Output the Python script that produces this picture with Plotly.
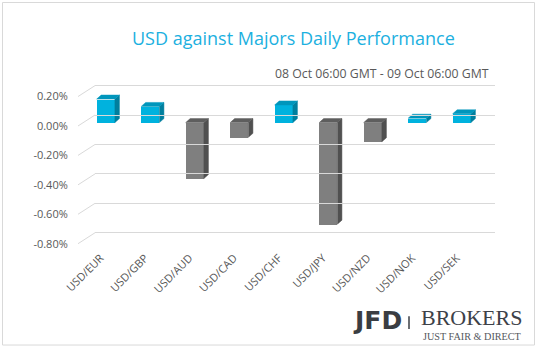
import plotly.graph_objects as go

# ---------------- data ----------------
categories = ["USD/EUR", "USD/GBP", "USD/AUD", "USD/CAD", "USD/CHF",
              "USD/JPY", "USD/NZD", "USD/NOK", "USD/SEK"]
values = [0.16, 0.11, -0.38, -0.10, 0.12, -0.69, -0.13, 0.03, 0.06]
tick_vals = [0.2, 0.0, -0.2, -0.4, -0.6, -0.8]
tick_text = ["0.20%", "0.00%", "-0.20%", "-0.40%", "-0.60%", "-0.80%"]
title_text = "USD against Majors Daily Performance"
subtitle_text = "08 Oct 06:00 GMT - 09 Oct 06:00 GMT"

# ---------------- geometry helpers ----------------
W, H = 538, 351
def px(x):
    return x / W
def py(y):
    return 1 - y / H

PX_PER_UNIT_Y = 148.0      # pixels per 1 %
PX_PER_CAT = 44.5          # pixels per category
PLOT_TOP, PLOT_BOT = 80, 250
PLOT_L, PLOT_R = 60, 500
BAR0_X = 105.8             # pixel centre of first bar (bar plane)
ZERO_BAR = 123.3           # pixel y of 0 in bar plane
ZERO_BACK = 115.7          # back wall
ZERO_FRONT = 126.7         # front floor edge (labels)
BACK_L, BACK_R = 95, 495
FRONT_L = 78

def yrange(zero_px):
    return [-(PLOT_BOT - zero_px) / PX_PER_UNIT_Y, (zero_px - PLOT_TOP) / PX_PER_UNIT_Y]

def xrange(c0):
    return [-(c0 - PLOT_L) / PX_PER_CAT, (PLOT_R - c0) / PX_PER_CAT]

bar_w = 0.41
dx = 4.5 / PX_PER_CAT
dy = 4.0 / PX_PER_UNIT_Y

CYAN = "#00B2DE"; CYAN_SIDE = "#007F9E"; CYAN_TOP = "#0096BC"
GRAY = "#7F7F7F"; GRAY_SIDE = "#505050"; GRAY_TOP = "#5E5E5E"

xs = list(range(len(categories)))
fig = go.Figure()

# side and top faces (pseudo-3D), built from the values
faces = {"pos_side": ([], []), "pos_top": ([], []), "neg_side": ([], []), "neg_top": ([], [])}
for i, v in enumerate(values):
    key = "pos" if v >= 0 else "neg"
    r = i + bar_w / 2
    l = i - bar_w / 2
    sx, sy = faces[key + "_side"]
    sx += [r, r, r + dx, r + dx, r, None]
    sy += [0, v, v + dy, dy, 0, None]
    t = max(v, 0)
    tx, ty = faces[key + "_top"]
    tx += [l, r, r + dx, l + dx, l, None]
    ty += [t, t, t + dy, t + dy, t, None]

for key, col in [("pos_side", CYAN_SIDE), ("pos_top", CYAN_TOP),
                 ("neg_side", GRAY_SIDE), ("neg_top", GRAY_TOP)]:
    fx, fy = faces[key]
    fig.add_trace(go.Scatter(x=fx, y=fy, mode="lines", fill="toself",
                             fillcolor=col, line=dict(color=col, width=0.5),
                             hoverinfo="skip", showlegend=False,
                             xaxis="x", yaxis="y"))

fig.add_trace(go.Bar(x=xs, y=values, width=bar_w,
                     marker=dict(color=[CYAN if v >= 0 else GRAY for v in values],
                                 line=dict(width=0)),
                     showlegend=False, xaxis="x", yaxis="y"))

# invisible helpers so overlay axes are drawn
fig.add_trace(go.Scatter(x=[0], y=[0], mode="markers", marker=dict(opacity=0),
                         hoverinfo="skip", showlegend=False, xaxis="x2", yaxis="y2"))
fig.add_trace(go.Scatter(x=[0], y=[0], mode="markers", marker=dict(opacity=0),
                         hoverinfo="skip", showlegend=False, xaxis="x3", yaxis="y3"))

# diagonal floor lines from back wall to front edge
shapes = []
depth_units = (ZERO_FRONT - ZERO_BACK) / PX_PER_UNIT_Y
for v in tick_vals:
    shapes.append(dict(type="line", xref="paper", yref="y2",
                       x0=px(FRONT_L), y0=v - depth_units, x1=px(BACK_L), y1=v,
                       line=dict(color="#D9D9D9", width=1)))
# outer border
shapes.append(dict(type="rect", xref="paper", yref="paper",
                   x0=px(2.5), y0=py(347), x1=px(534.5), y1=py(2.5),
                   line=dict(color="#D9D9D9", width=1), layer="below"))
# logo separator
shapes.append(dict(type="rect", xref="paper", yref="paper",
                   x0=px(408), y0=py(331), x1=px(410), y1=py(318),
                   line=dict(width=0), fillcolor="#6B6E73"))

font_family = "Open Sans, Segoe UI, sans-serif"
ydom = [py(PLOT_BOT), py(PLOT_TOP)]
front_shift = (ZERO_FRONT - ZERO_BAR) * (17 / 11)

fig.update_layout(
    width=W, height=H,
    margin=dict(l=0, r=0, t=0, b=0),
    paper_bgcolor="white", plot_bgcolor="rgba(0,0,0,0)",
    bargap=0,
    font=dict(family=font_family, color="#595959"),
    shapes=shapes,
    xaxis=dict(domain=[px(PLOT_L), px(PLOT_R)], range=xrange(BAR0_X),
               showgrid=False, zeroline=False, showticklabels=False,
               showline=False, fixedrange=True),
    yaxis=dict(domain=ydom, range=yrange(ZERO_BAR), showgrid=False,
               zeroline=False, showticklabels=False, showline=False),
    # back wall gridlines
    xaxis2=dict(domain=[px(BACK_L), px(BACK_R)], range=[0, 1], anchor="y2",
                showgrid=False, zeroline=False, showticklabels=False, showline=False),
    yaxis2=dict(domain=ydom, range=yrange(ZERO_BACK), anchor="x2",
                tickmode="array", tickvals=tick_vals, showticklabels=False,
                showgrid=True, gridcolor="#D9D9D9", gridwidth=1,
                zeroline=False, showline=False),
    # front edge: tick labels
    xaxis3=dict(domain=[px(PLOT_L), px(PLOT_R)], range=xrange(BAR0_X - front_shift),
                anchor="y3", tickmode="array", tickvals=xs, ticktext=categories,
                tickangle=-45, showgrid=False, zeroline=False, showline=False,
                ticks="", tickfont=dict(size=11, color="#595959")),
    yaxis3=dict(domain=ydom, range=yrange(ZERO_FRONT), anchor="free",
                position=px(76), side="left",
                tickmode="array", tickvals=tick_vals, ticktext=tick_text,
                showgrid=False, zeroline=False, showline=False,
                ticks="outside", ticklen=6, tickcolor="rgba(0,0,0,0)",
                tickfont=dict(size=11, color="#595959")),
    annotations=[
        dict(text=title_text, xref="paper", yref="paper", x=px(293.5), y=py(38),
             xanchor="center", yanchor="middle", showarrow=False,
             font=dict(size=18, color="#1CB0E0", family=font_family)),
        dict(text=subtitle_text, xref="paper", yref="paper", x=px(491), y=py(74),
             xanchor="right", yanchor="middle", showarrow=False,
             font=dict(size=12.3, color="#595959", family=font_family)),
        dict(text="<b>JFD</b>", xref="paper", yref="paper", x=px(351), y=py(322.5),
             xanchor="left", yanchor="middle", showarrow=False,
             font=dict(size=25, color="#3A3D42", family="DejaVu Sans, Liberation Sans")),
        dict(text="BROKERS", xref="paper", yref="paper", x=px(419), y=py(319.5),
             xanchor="left", yanchor="middle", showarrow=False,
             font=dict(size=22, color="#3D4148", family="Liberation Serif, Times New Roman")),
        dict(text="JUST FAIR &amp; DIRECT", xref="paper", yref="paper", x=px(421), y=py(338),
             xanchor="left", yanchor="middle", showarrow=False,
             font=dict(size=10.2, color="#55585D", family="Liberation Serif, Times New Roman")),
    ],
)

fig.write_html("out.html")
